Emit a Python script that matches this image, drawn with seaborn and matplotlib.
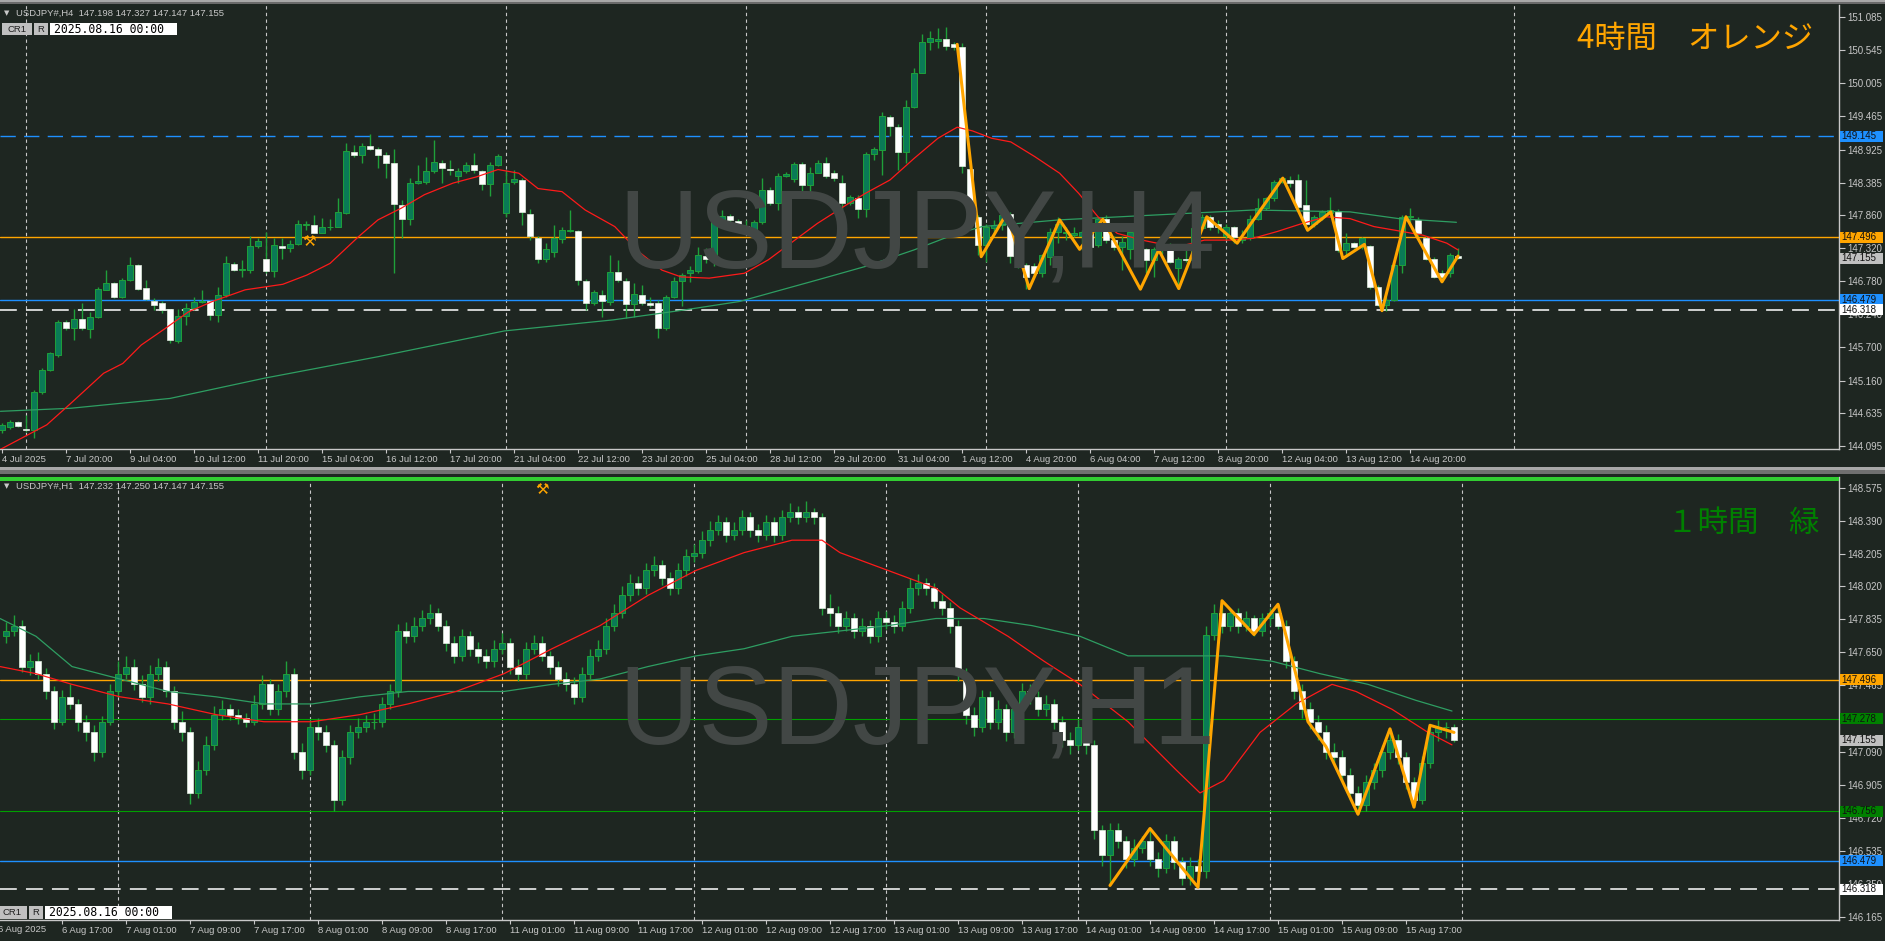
import numpy as np
import pandas as pd
import matplotlib
matplotlib.use("Agg")
import matplotlib.pyplot as plt
from matplotlib.patches import Rectangle
from matplotlib.transforms import blended_transform_factory
import seaborn as sns

# ---------------- H4 data (top panel) ----------------
h4_open = [144.35,144.41,144.49,144.38,144.35,144.98,145.33,145.58,146.11,146.01,
146.16,146.00,146.20,146.64,146.75,146.52,146.80,147.04,146.67,146.46,
146.42,146.32,145.81,146.21,146.34,146.44,146.45,146.23,146.55,147.06,
146.97,146.97,147.36,147.14,146.94,147.36,147.32,147.39,147.70,147.70,
147.57,147.66,147.67,147.89,148.89,148.83,148.98,148.93,148.83,148.70,
148.02,147.79,148.38,148.40,148.58,148.71,148.61,148.50,148.57,148.67,
148.58,148.36,148.68,147.89,148.39,148.43,147.88,147.49,147.15,147.26,
147.47,147.60,147.60,146.79,146.42,146.55,146.44,146.93,146.79,146.41,
146.55,146.42,146.42,146.01,146.53,146.79,146.91,146.94,147.19,147.15,
147.75,147.84,147.76,147.68,147.60,147.74,148.27,148.05,148.50,148.44,
148.69,148.35,148.55,148.70,148.55,148.38,148.05,148.13,147.95,148.85,
148.92,149.46,149.30,148.88,149.62,150.18,150.68,150.69,150.73,150.64,
150.60,148.61,147.82,147.37,147.64,147.70,147.87,147.19,147.04,147.03,
146.91,147.18,147.59,147.56,147.53,147.51,147.59,147.37,147.80,147.45,
147.34,147.30,147.59,147.30,147.13,147.29,147.33,146.99,147.15,147.13,
147.64,147.82,147.72,147.51,147.66,147.45,147.48,147.80,147.98,148.13,
148.40,148.43,148.43,148.02,147.72,147.83,147.89,147.93,147.29,147.40,
147.33,147.36,146.69,146.39,146.47,147.04,147.82,147.78,147.48,147.15,
146.91,146.91,147.198]
h4_high = [144.47,144.52,144.51,144.60,145.01,145.36,145.63,146.15,146.15,146.32,
146.43,146.28,146.69,146.97,146.77,146.83,147.17,147.06,146.80,146.50,
146.46,146.33,146.33,146.42,146.53,146.64,146.47,146.69,147.19,147.10,
147.12,147.51,147.48,147.58,147.49,147.48,147.45,147.77,147.76,147.86,
147.81,147.79,148.13,149.03,149.00,149.03,149.18,148.97,148.89,148.93,
148.10,148.46,148.67,148.81,149.08,148.76,148.76,148.62,148.73,148.87,
148.60,148.73,148.85,148.59,148.59,148.46,147.95,147.51,147.40,147.70,
147.67,147.94,147.61,146.81,146.64,146.64,147.21,147.13,146.83,146.75,
146.72,146.52,146.47,146.56,146.85,146.91,147.03,147.34,147.32,147.94,
147.94,147.87,147.79,147.78,147.78,148.46,148.32,148.54,148.56,148.73,
148.73,148.64,148.76,148.81,148.60,148.51,148.18,148.18,148.89,148.97,
149.54,149.49,149.35,149.73,150.25,150.81,150.85,150.90,150.92,150.68,
150.66,148.65,147.86,147.72,147.78,147.91,147.91,147.23,147.07,147.07,
147.23,147.64,147.83,147.67,147.67,147.61,147.67,147.83,147.86,147.51,
147.51,147.61,147.61,147.32,147.34,147.37,147.40,147.18,147.34,147.70,
147.87,147.86,147.78,147.72,147.68,147.61,147.86,148.13,148.16,148.43,
148.48,148.49,148.53,148.43,147.86,147.94,148.16,147.95,147.56,147.42,
147.50,147.37,146.72,146.53,147.07,147.86,147.97,147.83,147.51,147.18,
146.96,147.24,147.327]
h4_low = [144.30,144.38,144.40,144.33,144.22,144.95,145.31,145.55,145.98,145.82,
145.98,145.85,146.18,146.63,146.50,146.50,146.79,146.64,146.47,146.31,
146.26,145.77,145.77,146.07,146.31,146.42,146.15,146.12,146.53,146.95,
146.85,146.91,147.32,146.91,146.85,147.15,147.26,147.37,147.62,147.56,
147.56,147.61,147.66,147.88,148.81,148.70,148.92,148.62,148.46,146.91,
147.48,147.70,148.37,148.36,148.54,148.38,148.51,148.38,148.54,148.55,
148.27,148.17,148.65,147.83,148.37,147.70,147.45,147.07,147.10,147.18,
147.40,147.59,146.72,146.31,146.39,146.20,146.39,146.77,146.18,146.20,
146.39,146.36,145.85,145.99,146.50,146.37,146.77,146.91,147.07,147.02,
147.72,147.72,147.62,147.57,147.56,147.72,148.02,147.94,148.48,148.40,
148.19,148.16,148.54,148.46,148.42,147.94,148.02,147.81,147.83,148.76,
148.51,149.14,148.59,148.70,149.60,150.17,150.55,150.58,150.55,150.55,
148.54,147.72,147.20,147.10,147.56,147.62,147.07,146.99,146.66,146.85,
146.85,147.04,147.40,147.45,147.50,147.29,147.32,147.34,147.40,147.29,
146.96,147.15,147.29,146.91,146.85,147.23,147.07,146.66,147.10,147.07,
147.62,147.62,147.56,147.45,147.40,147.40,147.45,147.78,147.94,148.08,
148.38,148.32,147.94,147.67,147.67,147.78,147.83,147.26,147.18,147.32,
147.31,146.66,146.37,146.30,146.45,146.91,147.72,147.51,147.13,146.83,
146.77,146.85,147.147]
h4_close = [144.44,144.49,144.42,144.35,144.98,145.33,145.61,146.11,146.01,146.16,
146.02,146.19,146.65,146.75,146.52,146.80,147.04,146.66,146.49,146.40,
146.31,145.82,146.21,146.34,146.44,146.46,146.23,146.55,147.07,146.97,
146.98,147.36,147.44,146.95,147.37,147.32,147.39,147.71,147.71,147.57,
147.66,147.67,147.90,148.90,148.83,148.98,148.94,148.83,148.71,148.04,
147.80,148.38,148.41,148.58,148.72,148.62,148.59,148.57,148.67,148.59,
148.36,148.68,148.82,148.38,148.44,147.90,147.51,147.15,147.31,147.48,
147.62,147.62,146.80,146.42,146.60,146.45,146.93,146.80,146.41,146.57,
146.42,146.39,146.01,146.53,146.79,146.88,146.97,147.21,147.15,147.75,
147.85,147.77,147.67,147.61,147.74,148.27,148.05,148.50,148.53,148.69,
148.35,148.55,148.70,148.50,148.46,148.05,148.15,147.95,148.85,148.93,
149.48,149.31,148.88,149.62,150.18,150.68,150.75,150.73,150.61,150.59,
148.65,147.83,147.37,147.66,147.70,147.86,147.19,147.04,146.85,146.92,
147.20,147.59,147.72,147.59,147.57,147.59,147.34,147.80,147.45,147.34,
147.42,147.59,147.30,147.13,147.30,147.33,147.10,147.15,147.13,147.64,
147.83,147.67,147.67,147.66,147.50,147.48,147.80,147.98,148.13,148.40,
148.46,148.38,147.99,147.72,147.83,147.91,147.94,147.29,147.40,147.33,
147.48,146.69,146.39,146.47,147.04,147.83,147.84,147.56,147.15,146.85,
146.85,147.21,147.155]

h4_ma_red_x = [-0.2,5.6,8.6,12.7,15.1,17.4,20.4,23.3,26.3,30.4,35.1,38.1,41.0,44.6,47.0,49.9,52.8,56.4,
               59.3,62.0,64.6,67.0,70.0,72.9,76.6,79.6,82.5,84.9,88.4,92.8,95.8,101.9,105.5,107.9,111.0,
               114.0,117.0,119.4,121.3,123.7,126.1,129.1,132.2,134.6,137.0,139.4,142.5,145.5,147.9,150.3,
               153.4,156.4,159.4,162.5,165.5,168.5,171.5,174.6,177.6,180.6,182.0]
h4_ma_red_y = [144.04,144.44,144.79,145.28,145.44,145.74,146.01,146.28,146.45,146.64,146.73,146.88,147.07,
               147.51,147.78,147.97,148.19,148.38,148.48,148.60,148.54,148.29,148.24,147.94,147.67,147.26,
               146.96,146.85,146.83,146.91,147.13,147.72,148.02,148.21,148.43,148.78,149.11,149.29,149.23,
               149.11,149.05,148.81,148.54,148.21,147.83,147.56,147.45,147.37,147.37,147.45,147.45,147.48,
               147.59,147.72,147.83,147.80,147.67,147.60,147.53,147.40,147.29]
h4_ma_green_x = [-0.2,8.6,21.0,32.8,47.0,62.8,76.4,85.2,92.2,95.8,101.9,107.9,114.0,118.8,122.5,132.2,
                 144.3,156.4,168.5,174.6,181.8]
h4_ma_green_y = [144.66,144.71,144.87,145.20,145.55,145.97,146.15,146.31,146.45,146.58,146.80,147.02,
                 147.29,147.53,147.67,147.78,147.86,147.94,147.91,147.80,147.74]
h4_zz_x = [119.4,122.4,125.6,128.4,132.2,134.7,137.6,142.3,144.6,147.1,150.6,154.4,160.1,163.2,166.1,
           167.6,170.3,172.5,175.5,180.0,182.0]
h4_zz_y = [150.64,147.18,147.89,146.66,147.78,147.30,147.79,146.65,147.29,146.66,147.83,147.40,148.46,
           147.61,147.91,147.15,147.38,146.30,147.83,146.77,147.19]

h4_ticks = [151.085,150.545,150.005,149.465,148.925,148.385,147.860,147.320,146.780,146.240,
            145.700,145.160,144.635,144.095]
h4_xlabels = ["4 Jul 2025","7 Jul 20:00","9 Jul 04:00","10 Jul 12:00","11 Jul 20:00","15 Jul 04:00",
              "16 Jul 12:00","17 Jul 20:00","21 Jul 04:00","22 Jul 12:00","23 Jul 20:00","25 Jul 04:00",
              "28 Jul 12:00","29 Jul 20:00","31 Jul 04:00","1 Aug 12:00","4 Aug 20:00","6 Aug 04:00",
              "7 Aug 12:00","8 Aug 20:00","12 Aug 04:00","13 Aug 12:00","14 Aug 20:00"]
h4_xlabel_bars = list(range(0, 177, 8))
h4_grid_bars = [3, 33, 63, 93, 123, 153, 189]
h4_boxes = [(149.145, "149.145", '#1e90ff'), (147.496, "147.496", '#ffa500'), (147.155, "147.155", '#c0c0c0'),
            (146.479, "146.479", '#1e90ff'), (146.318, "146.318", '#ffffff')]

# ---------------- H1 data (bottom panel) ----------------
h1_open = [147.74,147.77,147.80,147.57,147.60,147.53,147.43,147.26,147.40,147.36,
147.26,147.20,147.09,147.26,147.43,147.53,147.57,147.47,147.40,147.53,
147.57,147.43,147.26,147.20,146.86,146.99,147.13,147.30,147.33,147.30,
147.28,147.26,147.36,147.47,147.33,147.43,147.53,147.09,146.99,147.23,
147.20,147.13,146.82,147.06,147.20,147.23,147.26,147.26,147.36,147.43,
147.77,147.74,147.80,147.84,147.87,147.80,147.70,147.63,147.74,147.67,
147.63,147.60,147.67,147.70,147.57,147.53,147.67,147.70,147.63,147.57,
147.50,147.47,147.40,147.53,147.63,147.67,147.80,147.87,147.97,148.04,
148.01,148.11,148.14,148.07,148.01,148.11,148.19,148.21,148.28,148.34,
148.38,148.31,148.34,148.41,148.34,148.31,148.38,148.31,148.41,148.44,
148.41,148.44,148.41,147.90,147.87,147.80,147.84,147.77,147.80,147.74,
147.84,147.82,147.80,147.90,148.01,148.04,148.01,147.94,147.90,147.80,
147.53,147.30,147.23,147.40,147.26,147.33,147.20,147.33,147.43,147.40,
147.33,147.36,147.26,147.16,147.13,147.23,147.13,146.65,146.51,146.65,
146.59,146.49,146.55,146.59,146.49,146.44,146.59,146.47,146.38,146.45,
146.42,147.75,147.87,147.80,147.87,147.80,147.84,147.77,147.84,147.87,
147.80,147.60,147.43,147.33,147.26,147.20,147.09,147.06,146.96,146.86,
146.79,146.92,146.99,147.09,147.16,147.06,146.92,146.82,147.03,147.20,
147.23,147.232]
h1_high = [147.82,147.86,147.83,147.64,147.65,147.56,147.46,147.44,147.47,147.39,
147.30,147.24,147.29,147.47,147.60,147.63,147.61,147.52,147.58,147.62,
147.60,147.46,147.32,147.23,147.04,147.18,147.35,147.38,147.36,147.33,
147.31,147.41,147.52,147.50,147.47,147.60,147.56,147.14,147.27,147.28,
147.24,147.16,147.10,147.24,147.28,147.30,147.31,147.40,147.47,147.81,
147.82,147.85,147.89,147.92,147.90,147.83,147.74,147.78,147.77,147.71,
147.67,147.72,147.76,147.73,147.61,147.71,147.75,147.74,147.66,147.60,
147.54,147.51,147.57,147.67,147.72,147.84,147.92,148.02,148.09,148.08,
148.15,148.19,148.17,148.10,148.15,148.23,148.26,148.33,148.39,148.42,
148.41,148.38,148.45,148.44,148.37,148.42,148.41,148.45,148.49,148.47,
148.50,148.46,148.43,147.98,147.91,147.88,147.87,147.84,147.83,147.88,
147.88,147.86,147.94,148.07,148.09,148.07,148.04,147.98,147.93,147.83,
147.56,147.34,147.44,147.43,147.38,147.36,147.37,147.48,147.47,147.43,
147.41,147.39,147.29,147.20,147.27,147.26,147.16,146.68,146.69,146.69,
146.62,146.60,146.62,146.66,146.53,146.63,146.62,146.50,146.50,146.49,
147.80,147.92,147.94,147.90,147.90,147.88,147.86,147.87,147.90,147.92,
147.83,147.63,147.47,147.37,147.30,147.24,147.14,147.10,147.00,146.90,
146.96,147.03,147.13,147.22,147.19,147.09,146.95,147.07,147.24,147.27,
147.26,147.250]
h1_low = [147.70,147.74,147.54,147.52,147.50,147.39,147.22,147.24,147.33,147.21,
147.15,147.04,147.06,147.24,147.40,147.50,147.44,147.37,147.36,147.49,
147.40,147.22,147.15,146.80,146.83,146.96,147.10,147.27,147.27,147.25,
147.23,147.24,147.33,147.30,147.30,147.40,147.05,146.94,146.96,147.16,
147.09,146.76,146.79,147.02,147.17,147.20,147.22,147.23,147.33,147.40,
147.70,147.71,147.77,147.81,147.77,147.66,147.59,147.60,147.63,147.59,
147.56,147.57,147.64,147.53,147.49,147.50,147.64,147.60,147.53,147.46,
147.43,147.36,147.37,147.50,147.60,147.64,147.77,147.84,147.94,147.97,
147.98,148.08,148.03,147.97,147.98,148.08,148.16,148.18,148.25,148.31,
148.27,148.28,148.31,148.30,148.27,148.28,148.27,148.28,148.38,148.37,
148.38,148.37,147.86,147.80,147.76,147.77,147.73,147.74,147.70,147.71,
147.78,147.76,147.77,147.87,147.97,147.97,147.90,147.86,147.76,147.49,
147.25,147.18,147.20,147.22,147.22,147.15,147.17,147.30,147.36,147.29,
147.29,147.22,147.12,147.08,147.10,147.08,146.60,146.45,146.34,146.55,
146.44,146.45,146.52,146.45,146.39,146.41,146.43,146.34,146.34,146.33,
146.38,147.72,147.76,147.77,147.76,147.77,147.74,147.74,147.80,147.78,
147.56,147.39,147.28,147.22,147.16,147.05,147.02,146.92,146.82,146.74,
146.76,146.88,146.95,147.05,147.02,146.88,146.78,146.80,147.00,147.15,
147.17,147.147]
h1_close = [147.77,147.80,147.57,147.60,147.53,147.43,147.26,147.40,147.36,147.26,
147.20,147.09,147.26,147.43,147.53,147.57,147.47,147.40,147.53,147.57,
147.43,147.26,147.20,146.86,146.99,147.13,147.30,147.33,147.30,147.28,
147.26,147.36,147.47,147.33,147.43,147.53,147.09,146.99,147.23,147.20,
147.13,146.82,147.06,147.20,147.23,147.26,147.26,147.36,147.43,147.77,
147.74,147.80,147.84,147.87,147.80,147.70,147.63,147.74,147.67,147.63,
147.60,147.67,147.70,147.57,147.53,147.67,147.70,147.63,147.57,147.50,
147.47,147.40,147.53,147.63,147.67,147.80,147.87,147.97,148.04,148.01,
148.11,148.14,148.07,148.01,148.11,148.19,148.21,148.28,148.34,148.38,
148.31,148.34,148.41,148.34,148.31,148.38,148.31,148.41,148.44,148.41,
148.44,148.41,147.90,147.87,147.80,147.84,147.77,147.80,147.74,147.84,
147.82,147.80,147.90,148.01,148.04,148.01,147.94,147.90,147.80,147.53,
147.30,147.23,147.40,147.26,147.33,147.20,147.33,147.43,147.40,147.33,
147.36,147.26,147.16,147.13,147.23,147.13,146.65,146.51,146.65,146.59,
146.49,146.55,146.59,146.49,146.44,146.59,146.47,146.38,146.45,146.42,
147.75,147.87,147.80,147.87,147.80,147.84,147.77,147.84,147.87,147.80,
147.60,147.43,147.33,147.26,147.20,147.09,147.06,146.96,146.86,146.79,
146.92,146.99,147.09,147.16,147.06,146.92,146.82,147.03,147.20,147.23,
147.232,147.155]

h1_ma_red_x = [-0.75,3.75,8.25,14.25,20.25,26.25,32.25,38.25,44.25,50.25,56.25,62.25,68.25,74.25,80.25,
               86.25,92.25,98.25,102,104.25,110.25,116.25,119.25,125.25,129.75,134.25,140.25,146.25,
               149.25,152.25,156.75,161.25,165.75,168.75,173.25,177.75,180.75]
h1_ma_red_y = [147.57,147.53,147.47,147.40,147.36,147.30,147.26,147.26,147.30,147.36,147.43,147.53,147.67,
               147.80,147.97,148.11,148.21,148.28,148.28,148.21,148.11,148.01,147.90,147.74,147.60,147.47,
               147.26,146.99,146.86,146.93,147.20,147.36,147.47,147.43,147.33,147.20,147.13]
h1_ma_green_x = [-0.75,3.75,8.25,14.25,20.25,26.25,32.25,38.25,44.25,50.25,62.25,68.25,74.25,80.25,86.25,
                 92.25,98.25,104.25,110.25,116.25,122.25,128.25,134.25,140.25,146.25,152.25,158.25,164.25,
                 170.25,176.25,180.75]
h1_ma_green_y = [147.84,147.74,147.57,147.50,147.43,147.40,147.36,147.36,147.40,147.43,147.43,147.47,147.50,
                 147.57,147.63,147.67,147.74,147.77,147.80,147.84,147.84,147.80,147.74,147.63,147.63,147.63,
                 147.60,147.53,147.47,147.38,147.32]
h1_zz_x = [138.0,143.0,149.0,152.0,156.0,159.0,162.75,165.0,169.0,173.0,176.0,178.0,181.0]
h1_zz_y = [146.34,146.66,146.33,147.94,147.75,147.92,147.26,147.12,146.74,147.22,146.78,147.24,147.20]

h1_ticks = [148.575,148.390,148.205,148.020,147.835,147.650,147.465,147.280,147.090,146.905,
            146.720,146.535,146.350,146.165]
h1_xlabels = ["6 Aug 17:00","7 Aug 01:00","7 Aug 09:00","7 Aug 17:00","8 Aug 01:00","8 Aug 09:00",
              "8 Aug 17:00","11 Aug 01:00","11 Aug 09:00","11 Aug 17:00","12 Aug 01:00","12 Aug 09:00",
              "12 Aug 17:00","13 Aug 01:00","13 Aug 09:00","13 Aug 17:00","14 Aug 01:00","14 Aug 09:00",
              "14 Aug 17:00","15 Aug 01:00","15 Aug 09:00","15 Aug 17:00"]
h1_xlabel_bars = list(range(7, 176, 8))
h1_grid_bars = [14, 38, 62, 86, 110, 134, 158, 182]
h1_boxes = [(147.496, "147.496", '#ffa500'), (147.278, "147.278", '#008000'), (147.155, "147.155", '#c0c0c0'),
            (146.756, "146.756", '#008000'), (146.479, "146.479", '#1e90ff'), (146.318, "146.318", '#ffffff')]

# ---------------- style ----------------
W, H = 1885, 941
BG = '#1e2621'
WICK = '#1fa03a'
BULL = '#0a7a56'
AXC = '#c8c8c8'
sns.set_theme(style="dark", rc={"axes.facecolor": BG, "figure.facecolor": BG})
plt.rcParams['font.family'] = ['Liberation Sans', 'DejaVu Sans']

fig = plt.figure(figsize=(W / 100, H / 100), dpi=100)
fig.patch.set_facecolor(BG)


def prect(x0, y0, x1, y1):
    return [x0 / W, 1 - y1 / H, (x1 - x0) / W, (y1 - y0) / H]


def ftext(x, y, s, **kw):
    fig.text(x / W, 1 - y / H, s, **kw)


def frect(x0, y0, x1, y1, fc, ec='none', lw=0):
    fig.add_artist(Rectangle((x0 / W, 1 - y1 / H), (x1 - x0) / W, (y1 - y0) / H,
                             transform=fig.transFigure, fc=fc, ec=ec, lw=lw, zorder=5))


AX_W = 1839
ax1 = fig.add_axes(prect(0, 5, AX_W, 449))
ax2 = fig.add_axes(prect(0, 477, AX_W, 920))


def draw_candles(ax, o, h, l, c):
    df = pd.DataFrame({"o": o, "h": h, "l": l, "c": c})
    x = np.arange(len(df))
    up = (df.c >= df.o).values
    ax.vlines(x, df.l, df.h, color=WICK, lw=1, zorder=3)
    lo = np.minimum(df.o, df.c).values
    ht = np.abs(df.c - df.o).values
    ax.bar(x[up], ht[up], bottom=lo[up], width=0.64, color=BULL, edgecolor=WICK, linewidth=0.7, zorder=4)
    ax.bar(x[~up], ht[~up], bottom=lo[~up], width=0.64, color='white', edgecolor='#e0f0e0', linewidth=0.5, zorder=4)


def style_axis(ax, xlim, ylim, yt, xb, xl, grid):
    ax.set_facecolor(BG)
    ax.set_xlim(*xlim)
    ax.set_ylim(*ylim)
    for s in ['left', 'top']:
        ax.spines[s].set_visible(False)
    for s in ['right', 'bottom']:
        ax.spines[s].set_visible(True)
        ax.spines[s].set_color(AXC)
        ax.spines[s].set_linewidth(1)
    ax.yaxis.tick_right()
    ax.set_yticks(yt)
    ax.set_yticklabels([f"{v:.3f}" for v in yt], fontsize=7, color=AXC)
    ax.tick_params(axis='y', length=4, width=0.8, color=AXC, pad=2, right=True, left=False)
    ax.set_xticks(xb)
    ax.set_xticklabels(xl, fontsize=6.8, color=AXC, ha='left')
    ax.tick_params(axis='x', length=3, width=0.8, color=AXC, pad=1.5, bottom=True)
    ax.grid(False)
    for g in grid:
        ax.axvline(g, color='#c8c8c8', lw=0.8, ls=(0, (3, 3)), zorder=1)


def price_boxes(ax, boxes, per_px):
    tr = blended_transform_factory(ax.transAxes, ax.transData)
    for y, text, fc in boxes:
        ax.add_patch(Rectangle((1.0003, y - 5.5 * per_px), 43 / AX_W, 11 * per_px, transform=tr,
                               fc=fc, ec='none', clip_on=False, zorder=19))
        ax.text(1 + 2.5 / AX_W, y, text, transform=tr, ha='left', va='center', fontsize=7,
                color='#101010', zorder=20, clip_on=False)


# ---------------- top panel ----------------
style_axis(ax1, (-0.25, 229.625), (144.046, 151.281), h4_ticks, h4_xlabel_bars, h4_xlabels, h4_grid_bars)
ftext(917, 267, "USDJPY,H4", fontsize=80, color='#424745', ha='center', va='baseline', zorder=0)
ax1.axhline(149.145, color='#1e90ff', lw=1, ls=(0, (11, 6)), zorder=2)
ax1.axhline(147.496, color='#ffa500', lw=1, zorder=2)
ax1.axhline(146.479, color='#1e90ff', lw=1, zorder=2)
ax1.axhline(146.318, color='white', lw=1.1, ls=(0, (11, 6)), zorder=2)
draw_candles(ax1, h4_open, h4_high, h4_low, h4_close)
sns.lineplot(x=h4_ma_green_x, y=h4_ma_green_y, ax=ax1, color='#2e9e62', lw=0.9, zorder=5)
sns.lineplot(x=h4_ma_red_x, y=h4_ma_red_y, ax=ax1, color='#ff1a1a', lw=0.9, zorder=5)
sns.lineplot(x=h4_zz_x, y=h4_zz_y, ax=ax1, color='#ffa500', lw=2.2, zorder=6)
ax1.set_xlabel(""); ax1.set_ylabel("")
price_boxes(ax1, h4_boxes, 0.016294)

# ---------------- bottom panel ----------------
style_axis(ax2, (-0.75, 229.125), (146.146, 148.635), h1_ticks, h1_xlabel_bars, h1_xlabels, h1_grid_bars)
ftext(917, 743, "USDJPY,H1", fontsize=80, color='#424745', ha='center', va='baseline', zorder=0)
ax2.axhline(147.496, color='#ffa500', lw=1, zorder=2)
ax2.axhline(147.278, color='#00a000', lw=0.8, zorder=2)
ax2.axhline(146.756, color='#00a000', lw=0.8, zorder=2)
ax2.axhline(146.479, color='#1e90ff', lw=1, zorder=2)
ax2.axhline(146.318, color='white', lw=1.1, ls=(0, (11, 6)), zorder=2)
draw_candles(ax2, h1_open, h1_high, h1_low, h1_close)
sns.lineplot(x=h1_ma_green_x, y=h1_ma_green_y, ax=ax2, color='#2e9e62', lw=0.9, zorder=5)
sns.lineplot(x=h1_ma_red_x, y=h1_ma_red_y, ax=ax2, color='#ff1a1a', lw=0.9, zorder=5)
sns.lineplot(x=h1_zz_x, y=h1_zz_y, ax=ax2, color='#ffa500', lw=2.2, zorder=6)
ax2.set_xlabel(""); ax2.set_ylabel("")
price_boxes(ax2, h1_boxes, 0.005618)

# ---------------- window chrome & overlays ----------------
frect(0, 0, W, 2, '#a8a8a8')
frect(0, 2, W, 4, '#6a6a6a')
frect(0, 467, W, 470, '#a8a8a8')
frect(0, 470, W, 474, '#707070')
frect(0, 477, AX_W, 481, '#32cd32')
ftext(-2, 929, "6 Aug 2025", fontsize=6.8, color=AXC, ha='left', va='center')

ftext(4, 13, "▼", fontsize=5, color=AXC, ha='left', va='center', family='DejaVu Sans')
ftext(16, 13, "USDJPY#,H4  147.198 147.327 147.147 147.155", fontsize=6.8, color=AXC, ha='left', va='center')
ftext(4, 486, "▼", fontsize=5, color=AXC, ha='left', va='center', family='DejaVu Sans')
ftext(16, 486, "USDJPY#,H1  147.232 147.250 147.147 147.155", fontsize=6.8, color=AXC, ha='left', va='center')

for (yt, yb, xc) in [(23, 35, 2), (906, 919, -3)]:
    frect(xc, yt, xc + 30, yb, '#c0c0c0')
    frect(xc + 32, yt, xc + 46, yb, '#c0c0c0')
    frect(xc + 48, yt, xc + 175, yb, 'white')
    ftext(xc + 15, (yt + yb) / 2, "CR1", fontsize=6.8, color='#202020', ha='center', va='center', zorder=6)
    ftext(xc + 39, (yt + yb) / 2, "R", fontsize=6.8, color='#202020', ha='center', va='center', zorder=6)
    ftext(xc + 52, (yt + yb) / 2 + 0.5, "2025.08.16 00:00", fontsize=8.3, color='black', ha='left',
          va='center', family='DejaVu Sans Mono', zorder=6)

ftext(1577, 39, "4時間　オレンジ", fontsize=22.5, color='#ffa500', ha='left', va='center',
      family=['Noto Sans CJK JP', 'DejaVu Sans'])
ftext(1667, 523, "１時間　緑", fontsize=22, color='#008000', ha='left', va='center',
      family=['Noto Sans CJK JP', 'DejaVu Sans'])
ftext(309, 242, "⚒", fontsize=11, color='#ffa500', ha='center', va='center', family='DejaVu Sans')
ftext(542, 489, "⚒", fontsize=11, color='#ffa500', ha='center', va='center', family='DejaVu Sans')

fig.savefig("out.png", dpi=100, facecolor=BG)
